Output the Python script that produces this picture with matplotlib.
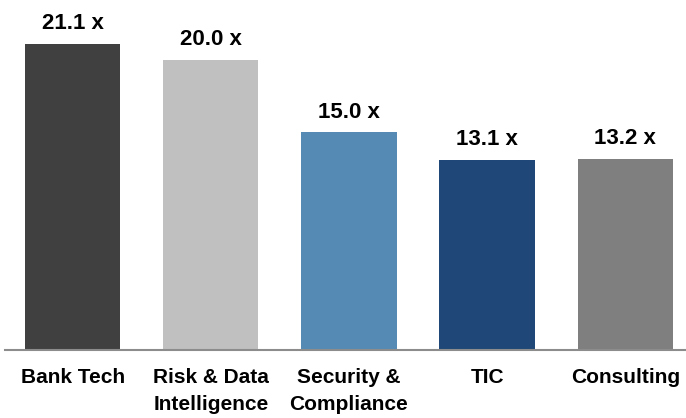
import matplotlib
matplotlib.use("Agg")
import matplotlib.pyplot as plt

categories = ["Bank Tech", "Risk & Data\nIntelligence", "Security &\nCompliance", "TIC", "Consulting"]
values = [21.1, 20.0, 15.0, 13.1, 13.2]
labels = ["21.1 x", "20.0 x", "15.0 x", "13.1 x", "13.2 x"]
colors = ["#404040", "#C0C0C0", "#558AB5", "#1F4777", "#7F7F7F"]

plt.rcParams["font.family"] = ["Liberation Sans", "DejaVu Sans"]

fig = plt.figure(figsize=(6.86, 4.18), dpi=100)
ax = fig.add_axes([5/686, 1 - 350/418, 1 - 5/686, 350/418])
x = range(len(values))
ax.bar(x, values, width=0.69, color=colors)
ax.set_xlim(-0.49, 4.44)
ax.set_ylim(0, 350/14.5)
for xi, v, lab in zip(x, values, labels):
    ax.annotate(lab, (xi, v), xytext=(0, 7), textcoords="offset points",
                ha="center", va="bottom", fontsize=16, fontweight="bold", color="#000000")
ax.set_xticks(list(x))
ax.set_xticklabels(categories, fontsize=15, fontweight="bold", linespacing=1.55, va="top")
ax.tick_params(axis="x", length=0, pad=13)
ax.set_yticks([])
for s in ["top", "right", "left"]:
    ax.spines[s].set_visible(False)
ax.spines["bottom"].set_color("#8C8C8C")
ax.spines["bottom"].set_linewidth(1.5)
fig.savefig("out.png", dpi=100)
